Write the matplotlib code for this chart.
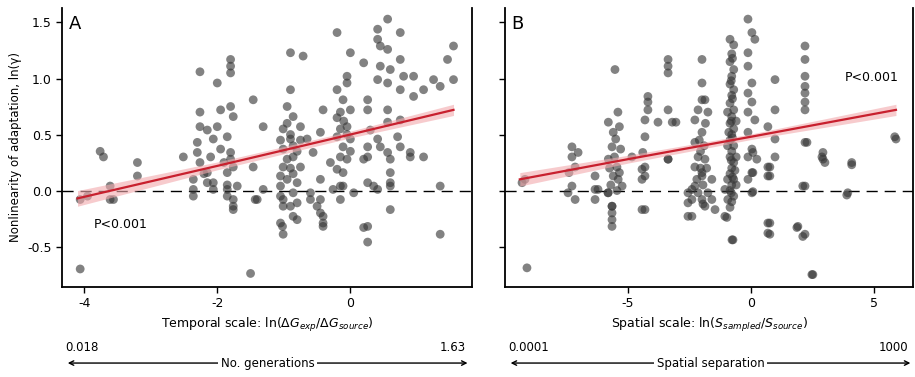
import numpy as np
import matplotlib.pyplot as plt

# panel A: temporal scale vs nonlinearity
temporal_pts = [
    (-3.76, 0.35), (-3.71, 0.30), (-3.20, 0.25), (-3.20, 0.13), (-2.51, 0.30),
    (-2.30, 0.43), (-2.30, 0.34), (-2.26, 0.70), (-2.26, 0.57), (-2.15, 0.54),
    (-2.26, 1.06), (-2.00, 0.96), (-1.80, 1.17), (-1.80, 1.11), (-1.80, 1.05),
    (-1.95, 0.72), (-1.80, 0.75), (-1.76, 0.66), (-2.00, 0.57), (-2.06, 0.46),
    (-1.95, 0.37), (-1.85, 0.48), (-1.80, 0.34), (-1.76, 0.21), (-1.85, 0.16),
    (-2.15, 0.16), (-2.36, 0.10), (-1.46, 0.81), (-1.31, 0.57), (-1.46, 0.21),
    (-0.90, 1.23), (-0.71, 1.20), (-0.90, 0.90), (-0.95, 0.75), (-0.86, 0.66),
    (-0.75, 0.57), (-0.90, 0.46), (-1.01, 0.37), (-0.86, 0.30), (-1.01, 0.21),
    (-0.75, 0.21), (-0.65, 0.46), (-0.56, 0.34), (-0.41, 0.72), (-0.45, 0.52),
    (-0.30, 0.25), (-0.20, 1.41), (0.00, 1.23), (-0.20, 0.90), (-0.11, 0.81),
    (-0.05, 1.02), (-0.05, 0.96), (0.00, 0.72), (-0.15, 0.70), (-0.05, 0.57),
    (-0.20, 0.48), (-0.11, 0.39), (0.00, 0.46), (-0.05, 0.28), (-0.20, 0.19),
    (0.20, 1.14), (0.26, 0.81), (0.26, 0.72), (0.30, 0.54), (0.26, 0.39),
    (0.41, 0.46), (0.26, 0.30), (0.41, 1.44), (0.41, 1.35), (0.45, 1.29),
    (0.56, 1.53), (0.56, 1.26), (0.45, 1.11), (0.41, 0.99), (0.56, 0.96),
    (0.60, 1.08), (0.56, 0.72), (0.56, 0.61), (0.45, 0.39), (0.56, 0.34),
    (0.75, 1.41), (0.75, 1.17), (0.75, 0.90), (0.80, 1.02), (0.75, 0.63),
    (0.75, 0.39), (0.90, 0.30), (0.71, 0.48), (0.95, 1.02), (0.95, 0.84),
    (1.10, 0.90), (1.10, 0.30), (1.25, 0.99), (1.35, 0.93), (1.46, 1.17),
    (1.55, 1.29), (1.55, 0.99),
    (-4.06, -0.08), (-3.61, -0.08), (-3.95, -0.05), (-2.36, 0.01), (-2.15, 0.07),
    (-2.06, 0.01), (-1.85, 0.01), (-1.76, -0.08), (-1.76, -0.17), (-1.85, -0.05),
    (-1.70, 0.04), (-1.40, -0.08), (-1.31, 0.01), (-1.05, 0.04), (-1.01, -0.08),
    (-1.05, -0.29), (-1.01, -0.39), (-0.86, -0.23), (-0.86, -0.02), (-0.90, -0.14),
    (-0.60, -0.02), (-0.45, -0.08), (-0.45, -0.20), (-0.41, -0.29), (-0.50, -0.14),
    (-0.26, 0.01), (-0.15, -0.08), (-0.11, 0.04), (0.05, -0.02), (0.26, -0.32),
    (0.26, -0.46), (0.60, -0.17), (0.35, 0.04), (0.60, 0.04), (1.35, 0.04),
    (1.35, -0.39), (-4.06, -0.70), (-1.50, -0.74),
    (-3.61, 0.04), (-3.56, -0.08), (-2.36, -0.05), (-2.06, 0.07), (-1.76, -0.14),
    (-1.43, -0.08), (-1.05, 0.13), (-1.05, -0.05), (-1.01, -0.14), (-1.02, -0.32),
    (-0.80, 0.07), (-0.80, -0.11), (-0.80, -0.26), (-0.60, -0.08), (-0.45, 0.10),
    (-0.41, -0.23), (-0.41, -0.32), (-0.15, 0.04), (-0.11, 0.16), (0.20, 0.28),
    (0.26, 0.07), (0.41, 0.01), (0.20, -0.33), (0.60, 0.28), (0.60, 0.16),
    (0.60, 0.07), (0.90, 0.34),
    (-1.01, 0.55), (-0.95, 0.60), (-0.90, 0.50), (-0.86, 0.40), (-0.95, 0.28),
    (-0.86, 0.15), (-0.80, 0.35), (-0.75, 0.45), (-1.05, 0.45), (-0.95, 0.10),
    (-0.90, 0.20), (-2.26, 0.25), (-2.20, 0.15), (-1.90, 0.25), (-1.85, 0.05),
    (-2.10, 0.30), (-1.80, 0.28), (-0.15, 0.55), (-0.10, 0.62), (-0.20, 0.65),
    (-0.05, 0.50), (0.00, 0.35), (-0.15, 0.30),
]

# panel B: spatial scale vs nonlinearity
spatial_pts = [
    (-5.53, 1.08), (-5.41, 0.70), (-5.80, 0.61), (-5.60, 0.52), (-5.35, 0.57),
    (-5.50, 0.46), (-5.65, 0.39), (-5.30, 0.37), (-5.80, 0.28), (-5.45, 0.21),
    (-5.60, 0.13), (-5.35, 0.16), (-7.28, 0.39), (-7.28, 0.30), (-7.15, 0.21),
    (-7.40, 0.16), (-9.19, 0.10), (-4.84, 0.30), (-4.31, 0.48), (-4.19, 0.84),
    (-4.19, 0.79), (-4.19, 0.72), (-4.31, 0.63), (-4.40, 0.34), (-4.31, 0.21),
    (-4.31, 0.13), (-3.78, 0.61), (-3.37, 1.17), (-3.37, 1.11), (-3.37, 1.05),
    (-3.37, 0.72), (-3.20, 0.61), (-3.37, 0.28), (-3.05, 0.61),
    (-1.99, 1.17), (-1.99, 0.96), (-1.99, 0.81), (-2.15, 0.72), (-2.28, 0.63),
    (-1.99, 0.52), (-2.28, 0.43), (-2.15, 0.30), (-1.87, 0.28), (-2.28, 0.21),
    (-1.99, 0.13), (-1.75, 0.70), (-1.87, 0.81),
    (-0.12, 1.53), (0.04, 1.41), (0.16, 1.35), (-0.12, 1.23), (-0.12, 1.11),
    (0.04, 0.96), (-0.12, 0.87), (0.04, 0.79), (-0.12, 0.70), (0.16, 0.63),
    (-0.12, 0.52), (0.04, 0.37), (-0.12, 0.30), (0.04, 0.16), (-0.12, 0.10),
    (0.69, 0.57), (0.98, 0.46), (0.98, 0.30), (0.69, 0.21), (0.98, 0.99),
    (0.98, 0.72), (0.69, 0.13), (2.20, 1.29), (2.20, 1.17), (2.20, 1.02),
    (2.20, 0.93), (2.20, 0.87), (2.20, 0.79), (2.20, 0.72), (2.20, 0.43),
    (2.89, 0.30), (3.01, 0.25), (4.10, 0.25), (5.85, 0.48),
    (-7.44, -0.02), (-7.15, -0.08), (-6.34, 0.01), (-5.81, -0.02), (-5.65, -0.14),
    (-5.65, -0.20), (-5.65, -0.26), (-5.65, -0.32), (-5.24, 0.04), (-4.43, -0.17),
    (-2.56, -0.02), (-2.56, -0.11), (-2.56, -0.23), (-2.28, 0.04), (-1.99, -0.08),
    (-1.75, -0.02), (-1.46, -0.17), (-1.06, 0.01), (-0.94, -0.08), (-1.06, -0.23),
    (-0.77, -0.44), (0.04, -0.02), (0.69, -0.29), (0.69, -0.38), (1.91, -0.32),
    (2.20, -0.39), (2.20, 0.04), (3.94, -0.02), (2.48, -0.75), (-9.11, -0.69),
    (-9.31, 0.07), (-7.28, 0.04), (-7.03, 0.34), (-6.34, 0.13), (-6.22, 0.01),
    (-6.34, -0.08), (-5.81, -0.02), (-5.65, -0.14), (-4.43, 0.10), (-4.43, 0.19),
    (-4.31, -0.17), (-3.37, 0.28), (-2.40, 0.01), (-2.40, -0.08), (-2.40, -0.23),
    (-1.99, 0.16), (-1.87, -0.14), (-1.59, 0.10), (-1.59, -0.08),
    (0.08, 0.34), (0.24, 0.28), (0.08, 0.16), (0.08, -0.01), (0.77, 0.21),
    (0.77, 0.13), (-0.98, -0.24), (-0.73, -0.44), (0.77, -0.29), (0.77, -0.39),
    (1.87, -0.33), (2.11, -0.41), (2.11, 0.04), (2.28, 0.43), (2.93, 0.34),
    (2.93, 0.28), (4.10, 0.23), (3.90, -0.04), (2.52, -0.75), (5.90, 0.46),
    # dense column near -0.8
    (-0.85, 1.35), (-0.70, 1.30), (-0.78, 1.22), (-0.85, 1.15), (-0.70, 1.08),
    (-0.78, 1.02), (-0.85, 0.95), (-0.70, 0.90), (-0.78, 0.85), (-0.85, 0.78),
    (-0.70, 0.72), (-0.78, 0.66), (-0.85, 0.60), (-0.70, 0.55), (-0.78, 0.50),
    (-0.85, 0.45), (-0.70, 0.40), (-0.78, 0.35), (-0.85, 0.30), (-0.70, 0.25),
    (-0.78, 0.20), (-0.85, 0.15), (-0.70, 0.10), (-0.78, 0.05), (-0.85, 0.00),
    (-0.70, -0.05), (-0.78, -0.10), (-0.85, -0.15), (-0.60, 0.62), (-0.60, 0.30),
    (-0.95, 0.40), (-0.95, 0.10), (-0.60, 0.05), (-0.95, 0.70),
    (-0.75, 1.18), (-0.80, 0.98), (-0.75, 0.82), (-0.80, 0.62), (-0.75, 0.47),
    (-0.80, 0.27), (-0.75, 0.12), (-0.80, -0.02), (-0.90, 0.52), (-0.65, 0.18),
    # column near -2
    (-2.10, 0.45), (-1.90, 0.40), (-2.05, 0.20), (-1.95, 0.05), (-2.15, -0.02),
    (-1.85, 0.60), (-2.20, 0.10), (-1.80, 0.20), (-2.05, 0.35), (-1.95, -0.12),
    # column near -5.5
    (-5.70, 0.05), (-5.45, 0.00), (-5.55, 0.30), (-5.40, 0.10), (-5.75, 0.20),
]

# fitted regression lines and confidence bands
a_fit_x = [-4.1, -2.0, 0.0, 1.55]
a_fit_y = [-0.07, 0.22, 0.50, 0.72]
a_band = [0.07, 0.035, 0.03, 0.05]
b_fit_x = [-9.4, -5.0, 0.0, 5.9]
b_fit_y = [0.10, 0.28, 0.48, 0.72]
b_band = [0.06, 0.035, 0.025, 0.05]

y_ticks = [-0.5, 0.0, 0.5, 1.0, 1.5]
y_ticklabels = ['-0.5', '0.0', '0.5', '1.0', '1.5']

fig = plt.figure(figsize=(9.15, 3.77), dpi=100)
axA = fig.add_axes([0.068, 0.239, 0.448, 0.740])
axB = fig.add_axes([0.552, 0.239, 0.446, 0.740])

def draw_panel(ax, pts, fx, fy, band, xlim, letter):
    x = np.array([p[0] for p in pts])
    y = np.array([p[1] for p in pts])
    ax.axhline(0, color='black', lw=1, ls=(0, (8, 5)), zorder=1)
    ax.scatter(x, y, s=40, color='#353535', alpha=0.62, edgecolors='none', zorder=2)
    fx = np.array(fx)
    fy = np.array(fy)
    band = np.array(band)
    ax.fill_between(fx, fy - band, fy + band, color='#f2a9ad', alpha=0.6, lw=0, zorder=3)
    ax.plot(fx, fy, color='#c8202e', lw=1.6, zorder=4)
    ax.set_xlim(*xlim)
    ax.set_ylim(-0.86, 1.63)
    ax.set_yticks(y_ticks)
    ax.spines['top'].set_visible(False)
    for s in ['left', 'bottom', 'right']:
        ax.spines[s].set_linewidth(1.3)
    ax.tick_params(labelsize=9, length=4, width=1)
    ax.text(0.015, 0.975, letter, transform=ax.transAxes, fontsize=13, va='top', ha='left')

draw_panel(axA, temporal_pts, a_fit_x, a_fit_y, a_band, (-4.33, 1.83), 'A')
draw_panel(axB, spatial_pts, b_fit_x, b_fit_y, b_band, (-10.0, 6.6), 'B')

axA.set_xticks([-4, -2, 0])
axA.set_xticklabels(['-4', '-2', '0'])
axA.set_yticklabels(y_ticklabels)
axA.set_ylabel('Nonlinearity of adaptation, ln(γ)', fontsize=8.5)
axA.set_xlabel(r'Temporal scale: ln($\Delta G_{exp}$/$\Delta G_{source}$)', fontsize=9)
axA.text(-3.85, -0.33, 'P<0.001', fontsize=9)

axB.set_xticks([-5, 0, 5])
axB.set_xticklabels(['-5', '0', '5'])
axB.set_yticklabels([])
axB.set_xlabel(r'Spatial scale: ln($S_{sampled}$/$S_{source}$)', fontsize=9)
axB.text(3.8, 0.98, 'P<0.001', fontsize=9)

# bottom scale arrows
def scale_arrow(x0, x1, left, right, mid):
    fig.add_artist(plt.matplotlib.patches.FancyArrowPatch(
        (x0, 0.037), (x1, 0.037), transform=fig.transFigure,
        arrowstyle='<->', mutation_scale=8, lw=1, color='black'))
    fig.text(x0, 0.062, left, fontsize=8.5, ha='left', va='bottom')
    fig.text(x1 - 0.005, 0.062, right, fontsize=8.5, ha='right', va='bottom')
    fig.text((x0 + x1) / 2, 0.037, mid, fontsize=8.5, ha='center', va='center',
             bbox=dict(facecolor='white', edgecolor='none', pad=2))

scale_arrow(0.071, 0.514, '0.018', '1.63', 'No. generations')
scale_arrow(0.555, 0.998, '0.0001', '1000', 'Spatial separation')

fig.savefig('out.png', dpi=100)
